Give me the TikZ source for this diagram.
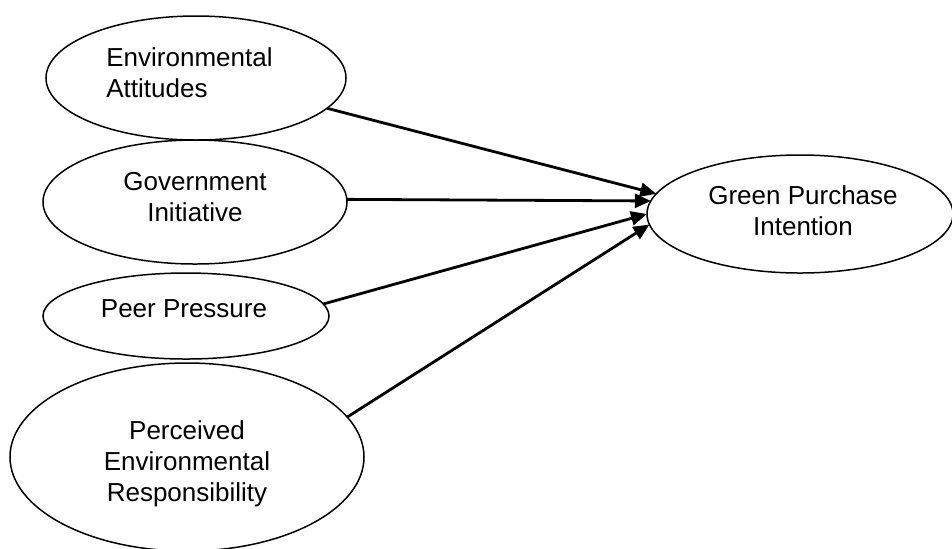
\documentclass[tikz,border=0pt]{standalone}
\usepackage{fontspec}
\setmainfont{Liberation Sans}
\usetikzlibrary{shapes.geometric,arrows.meta}
\begin{document}
\begin{tikzpicture}[x=0.5pt,y=-0.5pt,
  construct/.style={ellipse,draw,line width=0.75pt,inner sep=0pt,outer sep=0pt},
  caption/.style={inner sep=0pt,font=\fontsize{13pt}{15.5pt}\selectfont,align=center},
  path/.style={line width=1.4pt,-{Triangle[length=8pt,width=7pt]}}]
\useasboundingbox (0,0) rectangle (952,548);
% predictor constructs
\node[construct,minimum width=150pt,minimum height=62pt] (ea) at (196,78) {};
\node[caption,align=left,anchor=west] (eaT) at (106,73) {Environmental\\Attitudes};
\node[construct,minimum width=152pt,minimum height=62pt] (gi) at (195,202) {};
\node[caption] (giT) at (195,197.5) {Government\\Initiative};
\node[construct,minimum width=143pt,minimum height=43pt] (pp) at (186,316) {};
\node[caption] (ppT) at (184,308.5) {Peer Pressure};
\node[construct,minimum width=177pt,minimum height=94pt] (per) at (187,457) {};
\node[caption] (perT) at (187,464) {Perceived\\Environmental\\Responsibility};
% outcome construct
\node[construct,minimum width=153pt,minimum height=59pt] (gpi) at (800,214) {};
\node[caption] (gpiT) at (803,211) {Green Purchase\\Intention};
% structural paths
\draw[path] (ea.-13.6) -- (gpi.172.4);
\draw[path] (gi.1.5) -- (gpi.175.7);
\draw[path] (pp.5.6) -- (gpi.180);
\draw[path] (per.14.7) -- (gpi.184);
\end{tikzpicture}
\end{document}
